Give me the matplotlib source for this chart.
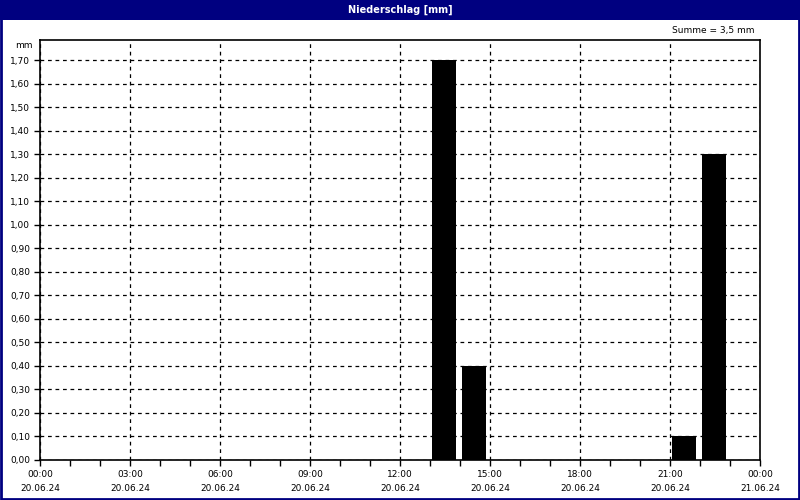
import matplotlib
matplotlib.use('Agg')
from matplotlib import pyplot as plt
from matplotlib.patches import Rectangle

# hourly precipitation (hour of 20.06.24 -> mm)
hours = [13, 14, 21, 22]
values = [1.70, 0.40, 0.10, 1.30]
tick_hours = [0, 3, 6, 9, 12, 15, 18, 21, 24]
tick_times = ['00:00', '03:00', '06:00', '09:00', '12:00', '15:00', '18:00', '21:00', '00:00']
tick_dates = ['20.06.24'] * 8 + ['21.06.24']
y_ticks = [i / 10 for i in range(18)]
title = 'Niederschlag [mm]'
total = 'Summe = 3,5 mm'

navy = '#000080'
plt.rcParams['font.family'] = ['DejaVu Sans']

fig = plt.figure(figsize=(8, 5), dpi=100)
fig.patch.set_facecolor('white')

# title bar and window border
fig.patches.append(Rectangle((0, 480 / 500), 1, 20 / 500, transform=fig.transFigure,
                             facecolor=navy, edgecolor='none', zorder=0))
fig.patches.append(Rectangle((0.001, 0.002), 0.998, 0.997, transform=fig.transFigure,
                             facecolor='none', edgecolor=navy, linewidth=2, zorder=5))
fig.text(0.5, 1 - 10 / 500, title, color='white', fontsize=7, fontweight='bold',
         ha='center', va='center')

ax = fig.add_axes([40 / 800, 40 / 500, 720 / 800, 420 / 500])
ax.bar([h + 0.067 for h in hours], values, width=0.8, align='edge',
       color='black', zorder=3)

ax.set_xlim(0, 24)
ax.set_ylim(0, 1.785)
ax.set_xticks(tick_hours)
ax.set_xticklabels([t + '\n' + d for t, d in zip(tick_times, tick_dates)],
                   fontsize=6.5, linespacing=1.75)
ax.set_xticks(range(25), minor=True)
ax.set_yticks(y_ticks)
ax.set_yticklabels([('%.2f' % v).replace('.', ',') for v in y_ticks], fontsize=6.5)

ax.grid(True, color='black', linestyle=(0, (3, 3)), linewidth=0.9, zorder=1)
ax.tick_params(axis='both', which='both', length=4, width=1, color='black')
ax.tick_params(axis='x', which='major', pad=3)
ax.tick_params(axis='y', which='major', pad=3)
for s in ax.spines.values():
    s.set_linewidth(1.2)

fig.text(33 / 800, 1 - 45 / 500, 'mm', fontsize=6.5, ha='right', va='center')
fig.text(755 / 800, 1 - 31 / 500, total, fontsize=6.5, ha='right', va='center')

fig.savefig('out.png', dpi=100)
